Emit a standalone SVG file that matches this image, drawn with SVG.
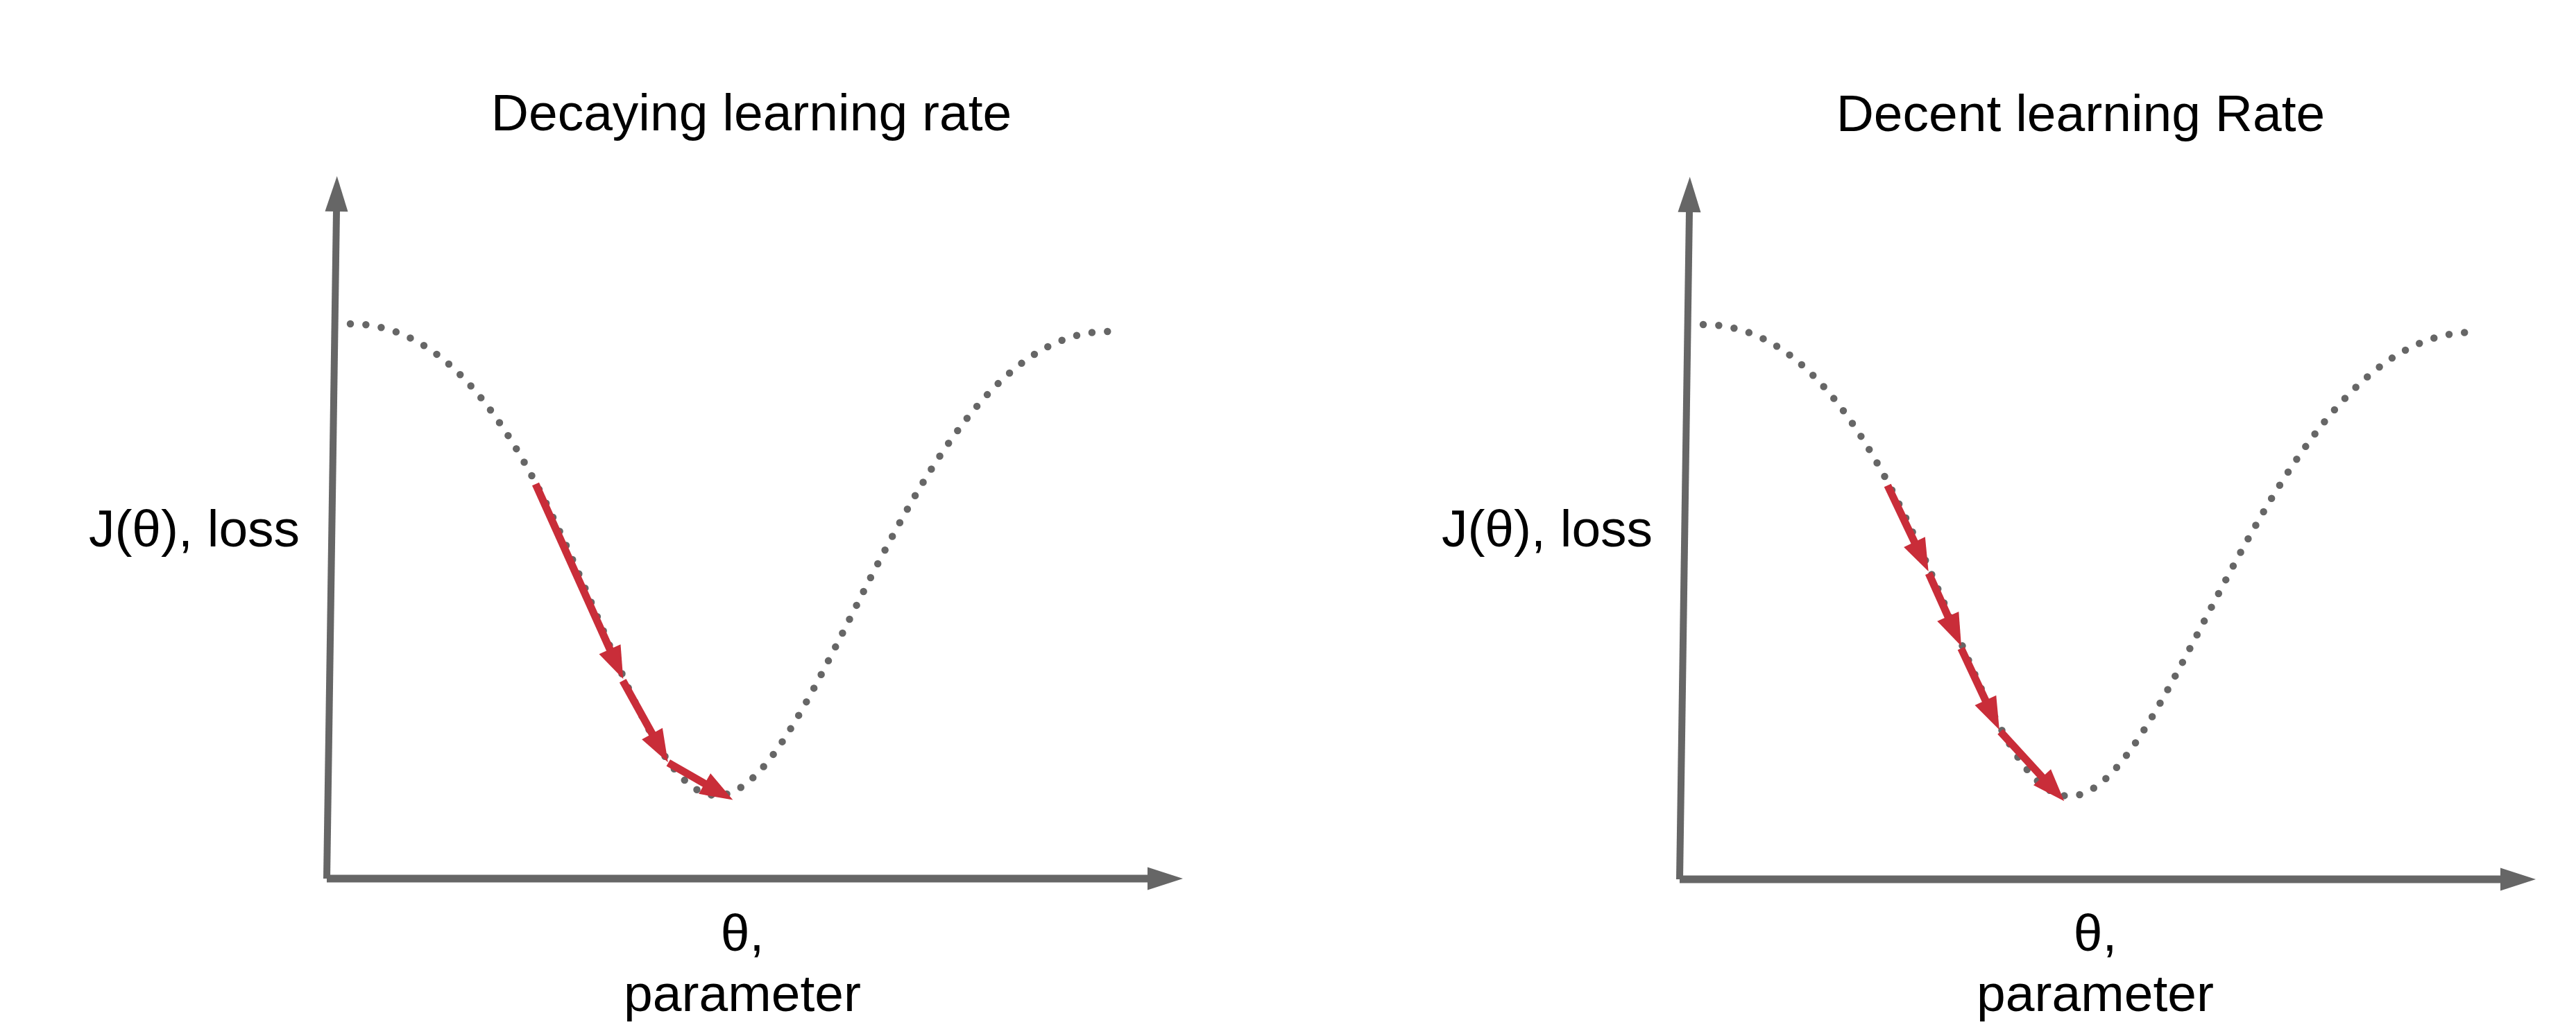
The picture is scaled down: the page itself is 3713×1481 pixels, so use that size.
<svg xmlns="http://www.w3.org/2000/svg" width="3713" height="1481" viewBox="0 0 3713 1481">
  <style>
    text { font-family: "Liberation Sans", Arial, sans-serif; font-size: 75px; fill: #000000; }
    .title { text-anchor: middle; }
    .ylabel { text-anchor: middle; }
    .xlabel { text-anchor: middle; }
    .axis { stroke: #666666; stroke-width: 10; fill: none; marker-end: url(#axishead); }
    .haxis { stroke-width: 11; }
    .curve { stroke: #666666; stroke-width: 10.5; fill: none; stroke-linecap: round; stroke-dasharray: 0 22.4; }
    .step { stroke: #C92D39; stroke-width: 11; fill: none; marker-end: url(#redhead); }
  </style>
  <defs>
    <marker id="axishead" markerUnits="userSpaceOnUse" viewBox="0 -17 52 34" refX="1" refY="0" markerWidth="52" markerHeight="34" orient="auto" overflow="visible">
      <path d="M0,-16.5 L51,0 L0,16.5 Z" fill="#666666"/>
    </marker>
    <marker id="redhead" markerUnits="userSpaceOnUse" viewBox="0 -18 48 36" refX="1" refY="0" markerWidth="48" markerHeight="36" orient="auto" overflow="visible">
      <path d="M0,-17 L47,0 L0,17 Z" fill="#C92D39"/>
    </marker>
  </defs>

  <g id="left-panel">
    <g id="left-title"><text class="title" x="1083" y="188">Decaying learning rate</text></g>
    <g id="left-axes">
      <path class="axis" d="M471,1267 L485,304"/>
      <path class="axis haxis" d="M471,1267 L1655,1267"/>
    </g>
    <g id="left-curve"><path class="curve" d="M505,467 C805,467 883,1147 1033,1147 C1183,1147 1315,478 1597,478"/></g>
    <g id="left-ylabel"><text class="ylabel" x="280" y="788">J(θ), loss</text></g>
    <g id="left-xlabel">
      <text class="xlabel" x="1070" y="1371">θ,</text>
      <text class="xlabel" x="1070" y="1458">parameter</text>
    </g>
  </g>

  <g id="right-panel">
    <g id="right-title"><text class="title" x="2999" y="189">Decent learning Rate</text></g>
    <g id="right-axes" transform="translate(1950,1)">
      <path class="axis" d="M471,1267 L485,304"/>
      <path class="axis haxis" d="M471,1267 L1655,1267"/>
    </g>
    <g id="right-curve"><path class="curve" d="M2455,468 C2755,468 2833,1148 2983,1148 C3133,1148 3272,479 3565,479"/></g>
    <g id="right-ylabel"><text class="ylabel" x="2230" y="788">J(θ), loss</text></g>
    <g id="right-xlabel">
      <text class="xlabel" x="3020" y="1371">θ,</text>
      <text class="xlabel" x="3020" y="1458">parameter</text>
    </g>
  </g>

  <g id="connectors">
    <path class="step" d="M772,698 L879.4,937.1"/>
    <path class="step" d="M897.7,981.7 L940.5,1058.9"/>
    <path class="step" d="M963.3,1100 L1016.5,1130.6"/>
    <path class="step" d="M2720.7,700 L2759.9,782.5"/>
    <path class="step" d="M2780,826.7 L2808.2,889.8"/>
    <path class="step" d="M2826.7,935 L2862.3,1010.8"/>
    <path class="step" d="M2883.3,1055 L2944.2,1121.4"/>
  </g>
</svg>
